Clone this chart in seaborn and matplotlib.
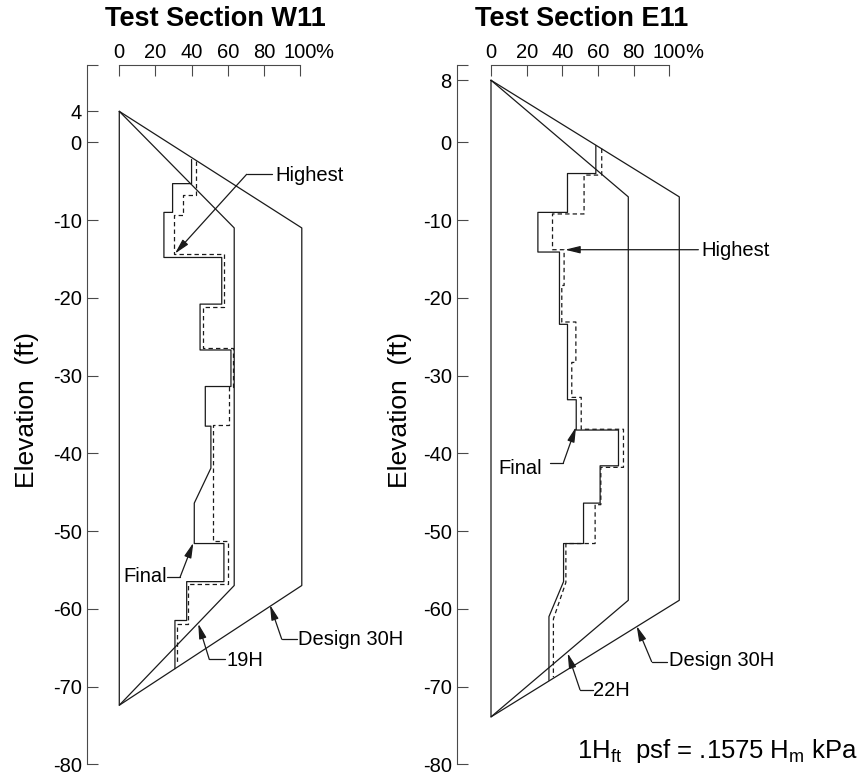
import matplotlib
matplotlib.use("Agg")
import matplotlib.pyplot as plt
import seaborn as sns

# ---------------- data ----------------
pct_ticks = [0, 20, 40, 60, 80, 100]
pct_labels = ["0", "20", "40", "60", "80", "100"]

w11_yticks = [10, 4, 0, -10, -20, -30, -40, -50, -60, -70, -80]
w11_ylabels = ["", "4", "0", "-10", "-20", "-30", "-40", "-50", "-60", "-70", "-80"]
e11_yticks = [10, 8, 0, -10, -20, -30, -40, -50, -60, -70, -80]
e11_ylabels = ["", "8", "0", "-10", "-20", "-30", "-40", "-50", "-60", "-70", "-80"]

# W11 envelopes (percent of design, elevation ft)
w11_env_elev = [4, -11, -57, -72.4, 4]
w11_design_pct = [0, 101, 101, 0, 0]
w11_19h_elev = [4, -11, -57, -72.4]
w11_19h_pct = [0, 63.6, 63.6, 0]

w11_final_pct = [40.0, 40.0, 29.5, 29.5, 24.7, 24.7, 56.7, 56.7, 44.7, 44.7, 61.8, 61.8,
                 47.6, 47.6, 50.7, 50.7, 41.5, 41.5, 57.9, 57.9, 37.3, 37.3, 30.8, 30.8]
w11_final_elev = [-2.2, -5.3, -5.3, -9.0, -9.0, -14.8, -14.8, -20.8, -20.8, -26.7, -26.7, -31.4,
                  -31.4, -36.5, -36.5, -41.9, -46.4, -51.6, -51.6, -56.5, -56.5, -61.5, -61.5, -67.7]
w11_high_pct = [42.4, 42.4, 35.4, 35.4, 30.4, 30.4, 58.1, 58.1, 46.5, 46.5, 63.1, 63.1,
                60.9, 60.9, 52.0, 52.0, 60.0, 60.0, 38.2, 38.2, 31.8, 31.8]
w11_high_elev = [-2.4, -6.7, -6.7, -9.3, -9.3, -14.4, -14.4, -21.2, -21.2, -26.4, -26.4, -31.5,
                 -31.5, -36.4, -36.4, -51.3, -51.3, -56.8, -56.8, -61.9, -61.9, -67.0]

# E11 envelopes
e11_env_elev = [8, -7, -58.9, -73.9, 8]
e11_design_pct = [0, 105.6, 105.6, 0, 0]
e11_22h_elev = [8, -7, -58.9, -73.9]
e11_22h_pct = [0, 77.0, 77.0, 0]

e11_final_pct = [58.8, 58.8, 42.9, 42.9, 26.3, 26.3, 38.4, 38.4, 42.9, 42.9, 47.8, 47.8,
                 71.5, 71.5, 61.2, 61.2, 51.9, 51.9, 40.7, 40.7, 32.5, 32.5]
e11_final_elev = [-0.4, -4.0, -4.0, -9.0, -9.0, -14.1, -14.1, -23.4, -23.4, -33.1, -33.1, -37.0,
                  -37.0, -41.6, -41.6, -46.4, -46.4, -51.6, -51.6, -56.5, -61.0, -69.2]
e11_high_pct = [62.1, 62.1, 52.2, 52.2, 34.5, 34.5, 41.0, 41.0, 39.7, 39.7, 47.6, 47.6, 45.3, 45.3,
                50.6, 50.6, 74.3, 74.3, 61.6, 61.6, 58.4, 58.4, 42.0, 42.0, 35.0, 35.0]
e11_high_elev = [-0.8, -4.2, -4.2, -9.2, -9.2, -13.8, -13.8, -18.4, -18.4, -23.1, -23.1, -28.3, -28.3, -32.8,
                 -32.8, -36.9, -36.9, -41.8, -41.8, -46.6, -46.6, -51.6, -51.6, -56.6, -61.3, -68.8]

# callouts: (label, text x, text elev, ha, leader line pts, arrow tip)
w11_callouts = [
    ("Highest", 86.6, -4.2, "left", [(84.3, -4.1), (70.5, -4.1)], (30.8, -14.3)),
    ("Final", 26.4, -55.9, "right", [(26.6, -55.95), (33.6, -55.95)], (41.0, -51.5)),
    ("19H", 59.2, -66.6, "left", [(58.5, -66.5), (49.8, -66.5)], (43.7, -61.9)),
    ("Design 30H", 99.0, -63.9, "left", [(98.2, -63.9), (89.9, -63.9)], (83.4, -59.5)),
]
e11_callouts = [
    ("Highest", 118.0, -13.9, "left", [(116.3, -13.8), (116.3, -13.8)], (41.5, -13.8)),
    ("Final", 28.4, -42.0, "right", [(33.1, -41.2), (40.6, -41.2)], (47.7, -36.6)),
    ("22H", 57.4, -70.5, "left", [(57.0, -70.4), (49.9, -70.4)], (43.0, -65.7)),
    ("Design 30H", 100.0, -66.7, "left", [(98.5, -66.8), (90.1, -66.8)], (81.7, -62.2)),
]

# ---------------- style ----------------
sns.set_theme(style="ticks")
plt.rcParams["font.family"] = ["Liberation Sans", "DejaVu Sans"]
plt.rcParams["mathtext.fontset"] = "custom"
plt.rcParams["mathtext.rm"] = "Liberation Sans"
plt.rcParams["mathtext.it"] = "Liberation Sans:italic"
plt.rcParams["text.color"] = "black"
plt.rcParams["axes.labelcolor"] = "black"

W, H = 861, 778
fig = plt.figure(figsize=(W / 100, H / 100), dpi=100)


def px_axes(left, top, right, bottom):
    return fig.add_axes([left / W, 1 - bottom / H, (right - left) / W, (bottom - top) / H])


LW = 0.9
SPINE = "#4a4a4a"
TICKFS = 14.5


def draw_panel(ax, xlim, yticks, ylabels, env_pct, env_elev, inner_pct, inner_elev,
               fin_pct, fin_elev, hi_pct, hi_elev, callouts):
    sns.lineplot(x=env_pct, y=env_elev, sort=False, estimator=None, color="k", lw=LW, ax=ax)
    sns.lineplot(x=inner_pct, y=inner_elev, sort=False, estimator=None, color="k", lw=LW, ax=ax)
    sns.lineplot(x=fin_pct, y=fin_elev, sort=False, estimator=None, color="k", lw=LW, ax=ax)
    sns.lineplot(x=hi_pct, y=hi_elev, sort=False, estimator=None, color="k", lw=LW,
                 linestyle=(0, (3.5, 2.5)), ax=ax)

    for label, tx, ty, ha, pts, tip in callouts:
        xs = [p[0] for p in pts]
        ys = [p[1] for p in pts]
        ax.plot(xs, ys, color="k", lw=LW)
        ax.annotate("", xy=tip, xytext=pts[-1],
                    arrowprops=dict(arrowstyle="-|>,head_length=0.9,head_width=0.22",
                                    color="k", lw=LW, shrinkA=0, shrinkB=0,
                                    mutation_scale=10))
        ax.text(tx, ty, label, ha=ha, va="center", fontsize=TICKFS)

    ax.set_xlim(*xlim)
    ax.set_ylim(-80, 10)
    ax.set_xlabel("")
    ax.set_ylabel("")
    ax.xaxis.tick_top()
    ax.set_xticks(pct_ticks)
    ax.set_xticklabels(pct_labels)
    ax.set_yticks(yticks)
    ax.set_yticklabels(ylabels)
    ax.tick_params(axis="x", direction="in", length=8, width=0.8, color=SPINE,
                   labelsize=TICKFS, pad=2, top=True, bottom=False,
                   labeltop=True, labelbottom=False, labelcolor="black")
    ax.tick_params(axis="y", direction="in", length=8, width=0.8, color=SPINE,
                   labelsize=TICKFS, pad=4, left=True, labelcolor="black")
    ax.annotate("%", xy=(100, 1.0), xycoords=("data", "axes fraction"),
                xytext=(11.2, 2), textcoords="offset points",
                ha="left", va="bottom", fontsize=TICKFS)
    for s in ("right", "bottom"):
        ax.spines[s].set_visible(False)
    ax.spines["top"].set_bounds(0, 100)
    for s in ("top", "left"):
        ax.spines[s].set_color(SPINE)
        ax.spines[s].set_linewidth(0.8)
    ax.patch.set_alpha(0)


# left panel: spine at x=87.3px, 0% at 119.3px, 1.807 px/%
axL = px_axes(87.3, 64.7, 87.3 + (160 + 17.7) * 1.807, 764.3)
draw_panel(axL, (-17.7, 160), w11_yticks, w11_ylabels, w11_design_pct, w11_env_elev,
           w11_19h_pct, w11_19h_elev, w11_final_pct, w11_final_elev,
           w11_high_pct, w11_high_elev, w11_callouts)

# right panel: spine at x=457.3px, 0% at 491px, 1.783 px/%
axR = px_axes(457.3, 64.7, 457.3 + (200 + 18.9) * 1.783, 764.3)
draw_panel(axR, (-18.9, 200), e11_yticks, e11_ylabels, e11_design_pct, e11_env_elev,
           e11_22h_pct, e11_22h_elev, e11_final_pct, e11_final_elev,
           e11_high_pct, e11_high_elev, e11_callouts)

# titles
fig.text(215 / W, 1 - 19.5 / H, "Test Section W11", ha="center", va="center",
         fontsize=19.5, fontweight="bold")
fig.text(581.7 / W, 1 - 19.5 / H, "Test Section E11", ha="center", va="center",
         fontsize=19.5, fontweight="bold")

# y labels
fig.text(27.5 / W, 1 - 410 / H, "Elevation  (ft)", rotation=90, ha="center", va="center",
         fontsize=19)
fig.text(399.5 / W, 1 - 410 / H, "Elevation  (ft)", rotation=90, ha="center", va="center",
         fontsize=19)

# footnote
fig.text(576.7 / W, 1 - 758 / H, r"1H$_{\rm ft}$  psf = .1575 H$_{\rm m}$ kPa",
         ha="left", va="baseline", fontsize=18.5)

fig.savefig("out.png", dpi=100)
